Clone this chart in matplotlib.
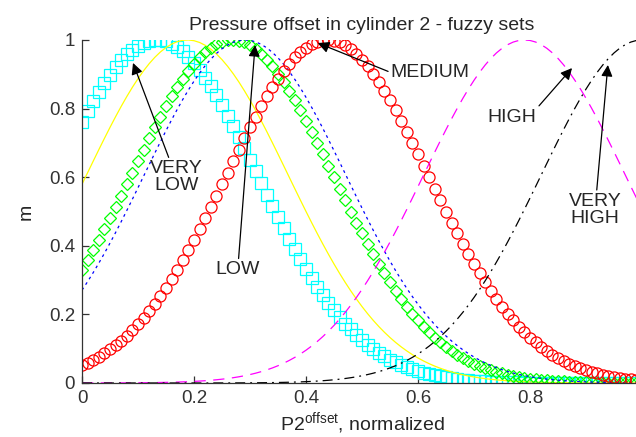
import numpy as np
import matplotlib
matplotlib.use("Agg")
import matplotlib.pyplot as plt

plt.rcParams['font.family'] = ['Liberation Sans', 'DejaVu Sans']
plt.rcParams['mathtext.fontset'] = 'custom'
plt.rcParams['mathtext.rm'] = 'Liberation Sans'
plt.rcParams['mathtext.it'] = 'Liberation Sans'

# Gaussian fuzzy sets for the normalized pressure offset (centre, width)
set_names = ["VERY LOW", "LOW_A", "LOW_B", "LOW_C", "MEDIUM", "HIGH", "VERY HIGH"]
centers = [0.133, 0.188, 0.268, 0.291, 0.438, 0.79, 1.0]
widths = [0.18, 0.18, 0.18, 0.18, 0.18, 0.18, 0.18]

x_ticks = [0, 0.2, 0.4, 0.6, 0.8, 1]
x_tick_labels = ['0', '0.2', '0.4', '0.6', '0.8', '']
y_ticks = [0, 0.2, 0.4, 0.6, 0.8, 1]
y_tick_labels = ['0', '0.2', '0.4', '0.6', '0.8', '1']

x = np.linspace(0, 1, 101)


def gaussmf(v, c, s):
    return np.exp(-((v - c) ** 2) / (2 * s ** 2))


styles = [
    dict(color='#00FFFF', ls='none', marker='s', ms=8.5, mfc='none', mew=0.9),
    dict(color='#FFFF00', ls='-', lw=0.9),
    dict(color='#00FF00', ls='none', marker='D', ms=6.5, mfc='none', mew=0.9),
    dict(color='#0000FF', ls=(0, (2.2, 3)), lw=0.9),
    dict(color='#FF0000', ls='none', marker='o', ms=8, mfc='none', mew=0.9),
    dict(color='#FF00FF', ls=(0, (9, 6)), lw=0.9),
    dict(color='#000000', ls=(0, (8, 4, 1.5, 4)), lw=0.9),
]

fig = plt.figure(figsize=(6.36, 4.37), dpi=100)
ax = fig.add_axes([0.129, 0.1236, 0.8805, 0.785])

for c, s, st in zip(centers, widths, styles):
    ax.plot(x, gaussmf(x, c, s), **st)

ax.set_xlim(0, 1)
ax.set_ylim(0, 1)
ax.set_xticks(x_ticks)
ax.set_xticklabels(x_tick_labels)
ax.set_yticks(y_ticks)
ax.set_yticklabels(y_tick_labels)
ax.tick_params(direction='in', length=5, width=0.9, labelsize=13.5,
               colors='#333333', pad=5)
for side in ['top', 'right']:
    ax.spines[side].set_visible(False)
for side in ['left', 'bottom']:
    ax.spines[side].set_color('#333333')
    ax.spines[side].set_linewidth(0.9)

ax.set_title('Pressure offset in cylinder 2 - fuzzy sets', fontsize=14,
             color='#262626', pad=7)
ax.set_xlabel(r'P2$^{\mathrm{offset}}$, normalized', fontsize=14,
              color='#262626', labelpad=2)
ax.set_ylabel('m', fontsize=14, color='#262626', labelpad=10)

arrow = dict(arrowstyle='-|>', color='black', lw=0.9, mutation_scale=17,
             shrinkA=0, shrinkB=0)
txt = dict(fontsize=14, color='#262626', ha='center', va='center',
           linespacing=1.0)

ax.annotate('VERY\nLOW', xy=(0.091, 0.933), xytext=(0.168, 0.6),
            arrowprops=arrow, **txt)
ax.annotate('LOW', xy=(0.309, 0.985), xytext=(0.278, 0.33),
            arrowprops=arrow, **txt)
ax.annotate('MEDIUM', xy=(0.421, 0.991), xytext=(0.622, 0.905),
            arrowprops=dict(arrow, relpos=(0, 0.5)), **txt)
ax.annotate('HIGH', xy=(0.875, 0.918), xytext=(0.768, 0.775),
            arrowprops=dict(arrow, relpos=(1, 1)), **txt)
ax.annotate('VERY\nHIGH', xy=(0.939, 0.927), xytext=(0.916, 0.505),
            arrowprops=arrow, **txt)

fig.savefig('out.png', dpi=100)
